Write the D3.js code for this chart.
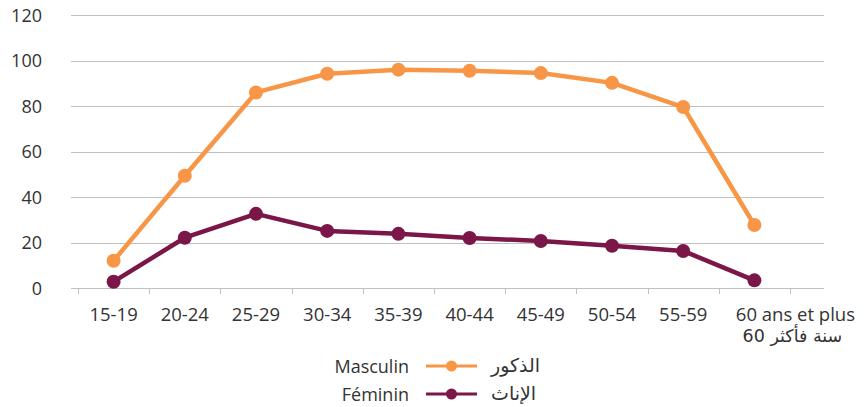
<!DOCTYPE html>
<html><head><meta charset="utf-8">
<script src="https://cdn.jsdelivr.net/npm/d3@7"></script>
<style>
html,body{margin:0;padding:0;background:#fff;}
text{font-family:"Open Sans","Liberation Sans",sans-serif;fill:#333333;}
.ar{font-family:"DejaVu Sans","Noto Sans",sans-serif;}
</style></head>
<body><svg id="c" width="866" height="407"></svg>
<script>
const categories = ["15-19","20-24","25-29","30-34","35-39","40-44","45-49","50-54","55-59","60 ans et plus"];
const categoriesAr = ["","","","","","","","","","60 سنة فأكثر"];
const masculin = [12.1,49.4,86.0,94.2,96.0,95.5,94.5,90.2,79.6,27.8];
const feminin = [2.9,22.2,32.7,25.2,23.9,22.1,20.8,18.7,16.4,3.5];
const yTicks = [0,20,40,60,80,100,120];
const seriesNames = ["Masculin","Féminin"];
const seriesNamesAr = ["الذكور","الإناث"];
const colors = ["#F79646","#7B1648"];

const svg = d3.select("#c");
const x = d3.scaleBand().domain(categories).range([78,790]);
const y = d3.scaleLinear().domain([0,120]).range([288.3,15]);

// gridlines
svg.append("g").selectAll("line").data(yTicks).join("line")
  .attr("x1",71).attr("x2",824)
  .attr("y1",d=>Math.round(y(d))+0.5).attr("y2",d=>Math.round(y(d))+0.5)
  .attr("stroke","#c0c0c0").attr("stroke-width",1);

// y labels
svg.append("g").selectAll("text").data(yTicks).join("text")
  .attr("x",42).attr("y",d=>y(d)+6.5).attr("text-anchor","end")
  .attr("font-size",18).text(d=>d);

// x ticks
const bounds = categories.map(c=>x(c)).concat([x.range()[1]]);
svg.append("g").selectAll("line").data(bounds).join("line")
  .attr("x1",d=>Math.round(d)+0.5).attr("x2",d=>Math.round(d)+0.5)
  .attr("y1",288).attr("y2",294).attr("stroke","#c0c0c0");

// x labels
const cx = (c,i)=> i===categories.length-1 ? x(c)+x.bandwidth()/2+41 : x(c)+x.bandwidth()/2;
svg.append("g").selectAll("text").data(categories).join("text")
  .attr("x",(d,i)=>cx(d,i)).attr("y",321).attr("text-anchor","middle")
  .attr("font-size",18.5).text(d=>d);
svg.append("g").selectAll("text").data(categoriesAr).join("text")
  .attr("class","ar")
  .attr("x",(d,i)=>cx(categories[i],i)-3).attr("y",342).attr("text-anchor","middle")
  .attr("font-size",17.5).text(d=>d);

// series
const line = d3.line().x((d,i)=>x(categories[i])+x.bandwidth()/2).y(d=>y(d));
[masculin,feminin].forEach((s,k)=>{
  svg.append("path").datum(s).attr("d",line).attr("fill","none")
    .attr("stroke",colors[k]).attr("stroke-width",4.5).attr("stroke-linejoin","round");
  svg.append("g").selectAll("circle").data(s).join("circle")
    .attr("cx",(d,i)=>x(categories[i])+x.bandwidth()/2).attr("cy",d=>y(d))
    .attr("r",7).attr("fill",colors[k]);
});

// legend
const ly = [366,394];
seriesNames.forEach((n,k)=>{
  const g = svg.append("g");
  g.append("text").attr("x",409).attr("y",ly[k]+6.5).attr("text-anchor","end")
    .attr("font-size",18).text(n);
  g.append("line").attr("x1",426).attr("x2",477).attr("y1",ly[k]).attr("y2",ly[k])
    .attr("stroke",colors[k]).attr("stroke-width",3);
  g.append("circle").attr("cx",451.5).attr("cy",ly[k]).attr("r",5.5).attr("fill",colors[k]);
  g.append("text").attr("class","ar").attr("x",491).attr("y",ly[k]+6)
    .attr("text-anchor","start").attr("font-size",19).text(seriesNamesAr[k]);
});
</script></body></html>
